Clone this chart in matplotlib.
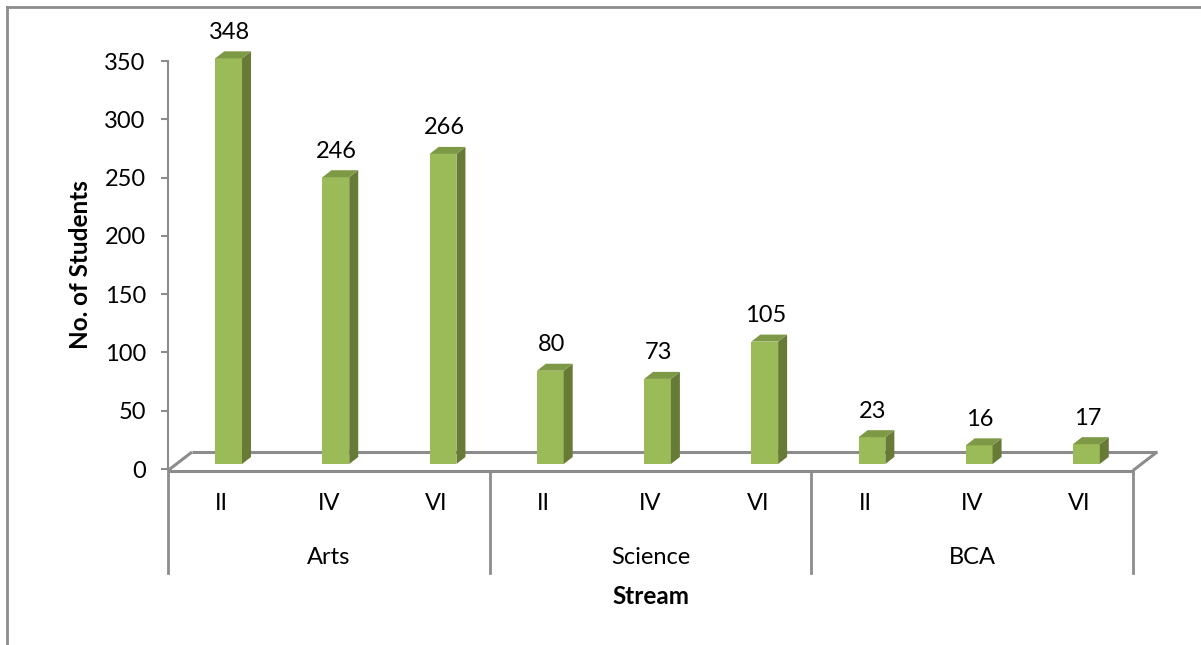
import numpy as np
import matplotlib
matplotlib.use("Agg")
import matplotlib.pyplot as plt
from matplotlib.patches import Polygon
from matplotlib.lines import Line2D

# data
streams = ["Arts", "Science", "BCA"]
semesters = ["II", "IV", "VI"]
arts = [348, 246, 266]
science = [80, 73, 105]
bca = [23, 16, 17]
yticks = [0, 50, 100, 150, 200, 250, 300, 350]

plt.rcParams['font.family'] = ['Lato', 'DejaVu Sans']
FS = 17
FSB = 17.5

front_c = "#9bbb59"
side_c = "#677b37"
top_c = "#7d9945"
grey = "#8c8c8c"

W, H = 1201, 645
fig = plt.figure(figsize=(W / 100, H / 100), dpi=100)

# axes placed to match pixel frame: x 168..1133, y 469..61
x0, x1, y0, y1 = 168, 1133, 469, 61
ax = fig.add_axes([x0 / W, 1 - y0 / H, (x1 - x0) / W, (y0 - y1) / H])
ax.set_xlim(0, 9)
ax.set_ylim(0, 350)
for s in ["top", "right", "bottom"]:
    ax.spines[s].set_visible(False)
ax.spines["left"].set_color(grey)
ax.spines["left"].set_linewidth(1.5)
ax.set_yticks(yticks)
ax.set_yticklabels([str(t) for t in yticks], fontsize=FS)
ax.tick_params(axis="y", direction="out", length=5, width=1.5, color=grey, pad=11)
ax.set_xticks([])

# pixel <-> data scale
p0 = ax.transData.transform((0, 0))
p1 = ax.transData.transform((1, 1))
px_x = p1[0] - p0[0]
px_y = p1[1] - p0[1]

def dx(px):
    return px / px_x

def dy(px):
    return px / px_y

# floor of the 3D plot
fd_x, fd_y = dx(24), dy(17)
floor_kw = dict(color=grey, lw=2.2, clip_on=False, solid_capstyle="butt")
ax.plot([0, 9], [dy(-1.5), dy(-1.5)], **floor_kw)
ax.plot([fd_x, 9 + fd_x], [fd_y, fd_y], **floor_kw)
ax.plot([0, fd_x], [dy(-1.5), fd_y], **floor_kw)
ax.plot([9, 9 + fd_x], [dy(-1.5), fd_y], **floor_kw)

# bars
values = arts + science + bca
pos = np.arange(len(values)) + 0.5
bw = 0.25
off_x, off_y = dx(7), dy(5)
bd_x, bd_y = dx(9), dy(7)
for xc, v in zip(pos, values):
    xl = xc + off_x - bw / 2
    xr = xc + off_x + bw / 2
    yb = off_y
    yt = off_y + v
    faces = [
        ([(xl, yb), (xr, yb), (xr, yt), (xl, yt)], front_c),
        ([(xr, yb), (xr + bd_x, yb + bd_y), (xr + bd_x, yt + bd_y), (xr, yt)], side_c),
        ([(xl, yt), (xr, yt), (xr + bd_x, yt + bd_y), (xl + bd_x, yt + bd_y)], top_c),
    ]
    for pts, c in faces:
        ax.add_patch(Polygon(pts, closed=True, facecolor=c, edgecolor="none",
                             zorder=3, clip_on=False))
    ax.text(xc + off_x + dx(1), yt + dy(26), str(v), ha="center", va="center",
            fontsize=FS, clip_on=False)

# category axis (two levels)
xtr = ax.get_xaxis_transform()
ah = y0 - y1
for g in range(4):
    ax.plot([3 * g, 3 * g], [-2 / ah, -104 / ah], transform=xtr, color=grey,
            lw=2, clip_on=False)
for i, xc in enumerate(pos):
    ax.text(xc, -(503 - y0) / ah, semesters[i % 3], transform=xtr, ha="center",
            va="center", fontsize=FS)
for g, name in enumerate(streams):
    ax.text(3 * g + 1.5, -(557 - y0) / ah, name, transform=xtr, ha="center",
            va="center", fontsize=FS)
ax.text(4.5, -(596 - y0) / ah, "Stream", transform=xtr, ha="center", va="center",
        fontsize=FSB, fontweight="bold")
ax.text(-(x0 - 80) / (x1 - x0) * 9, 175, "No. of Students", ha="center", va="center",
        rotation=90, fontsize=FSB, fontweight="bold", clip_on=False)

# chart border (left and top edges visible)
fig.add_artist(Line2D([7 / W, 7 / W], [0, 1 - 7 / H], transform=fig.transFigure,
                      color=grey, lw=2))
fig.add_artist(Line2D([7 / W, 1], [1 - 7 / H, 1 - 7 / H], transform=fig.transFigure,
                      color=grey, lw=2))

fig.savefig("out.png", dpi=100)
